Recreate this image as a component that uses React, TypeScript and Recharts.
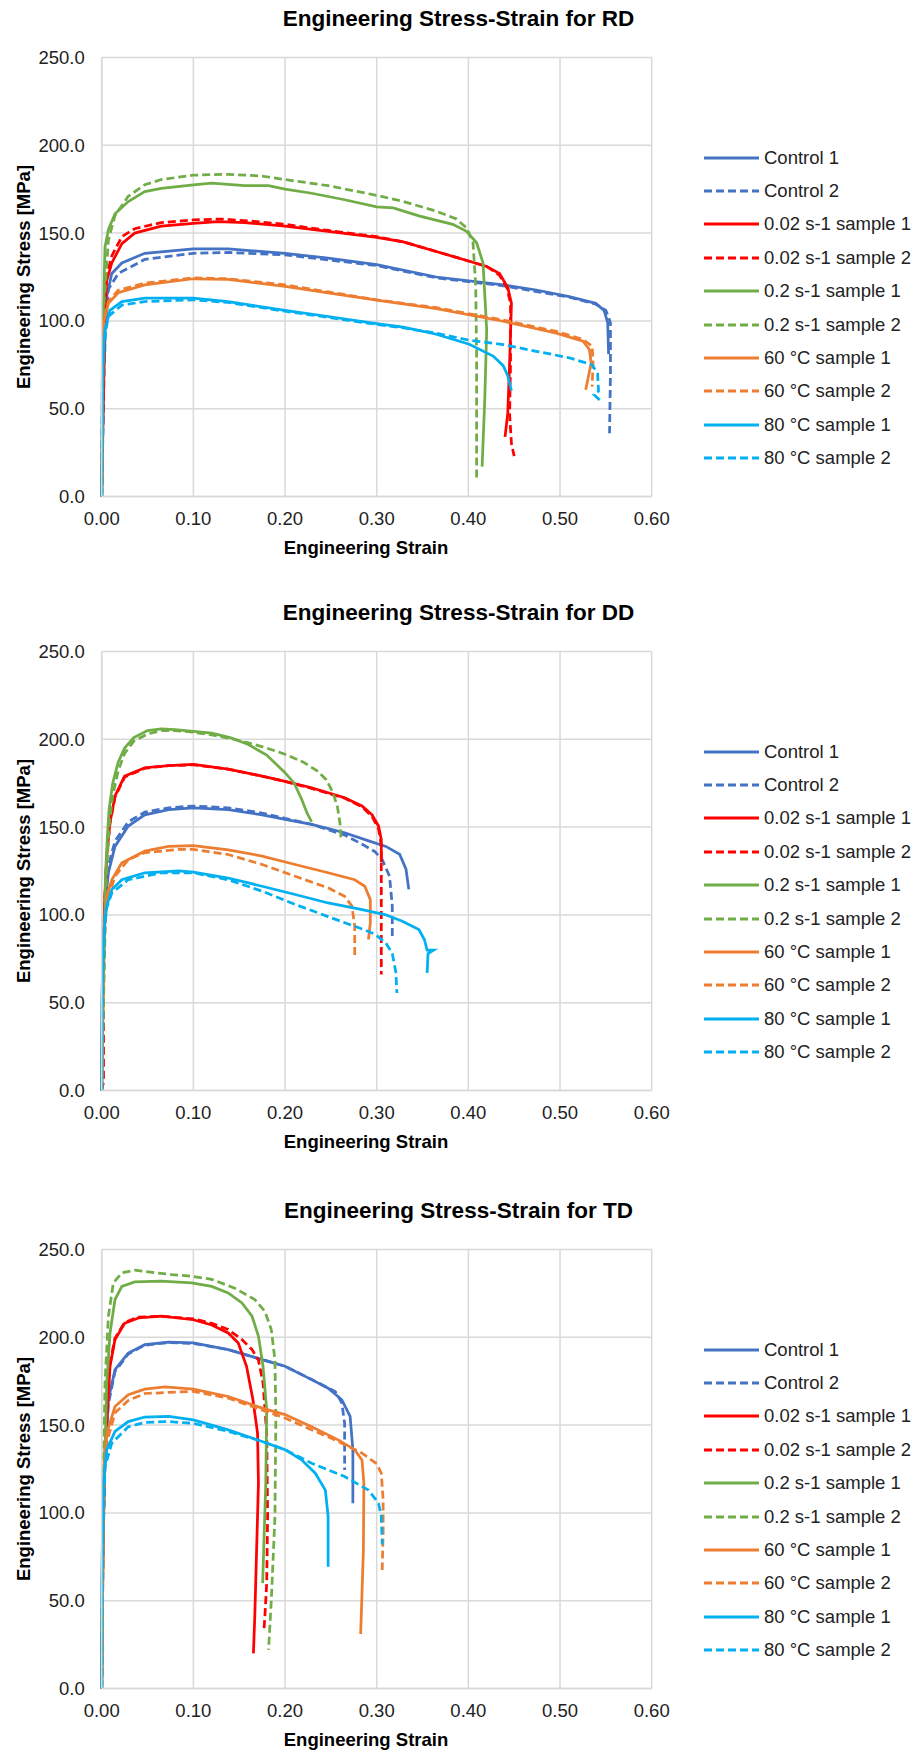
import { CartesianGrid, Line, LineChart, XAxis, YAxis } from "recharts";

type Pt = [number, number];

// strain [-], stress [MPa]
const rdControl1: Pt[] = [[0, 0], [0.002, 60], [0.004, 100], [0.0055, 114], [0.011, 127], [0.022, 133], [0.047, 138.5], [0.1, 141], [0.138, 141], [0.2, 138.5], [0.247, 135.7], [0.3, 132], [0.365, 125], [0.438, 120.5], [0.474, 117.6], [0.51, 113.8], [0.539, 110], [0.548, 106], [0.552, 99], [0.553, 81]];
const rdControl2: Pt[] = [[0, 0], [0.002, 55], [0.004, 95], [0.0073, 118], [0.018, 127], [0.047, 135], [0.1, 138.5], [0.138, 139], [0.2, 137.6], [0.3, 131.5], [0.365, 124.5], [0.438, 120], [0.51, 113.5], [0.539, 109.5], [0.55, 106], [0.555, 99], [0.555, 70], [0.554, 36]];
const rdRate1: Pt[] = [[0, 0], [0.002, 70], [0.004, 110], [0.0055, 123], [0.011, 133], [0.022, 144], [0.036, 150], [0.065, 154], [0.1, 155.6], [0.127, 156.5], [0.156, 156], [0.2, 154], [0.247, 151], [0.3, 147.6], [0.329, 145], [0.365, 139.5], [0.401, 134], [0.42, 131], [0.434, 127], [0.443, 119], [0.447, 110], [0.445, 76], [0.443, 47.5], [0.44, 34]];
const rdRate2: Pt[] = [[0, 0], [0.002, 70], [0.004, 112], [0.0055, 126], [0.011, 137], [0.022, 148], [0.036, 152.5], [0.065, 156], [0.1, 157.5], [0.13, 158], [0.16, 157], [0.2, 155], [0.247, 151.5], [0.3, 148], [0.329, 145], [0.365, 139.5], [0.401, 134], [0.42, 131], [0.434, 126], [0.442, 119], [0.446, 110], [0.446, 76], [0.445, 47], [0.447, 30], [0.45, 23]];
const rdFast1: Pt[] = [[0, 0], [0.001, 60], [0.002, 110], [0.0036, 142], [0.0073, 152], [0.0145, 161], [0.029, 168], [0.047, 173.6], [0.065, 175.5], [0.1, 177.5], [0.12, 178.4], [0.156, 177], [0.182, 177], [0.2, 175], [0.229, 172.7], [0.265, 169], [0.3, 165], [0.318, 164.4], [0.347, 159.7], [0.383, 155], [0.398, 151], [0.409, 144.5], [0.416, 133], [0.42, 95], [0.418, 57], [0.415, 17]];
const rdFast2: Pt[] = [[0, 0], [0.001, 60], [0.002, 105], [0.0073, 146], [0.0145, 160], [0.029, 171], [0.047, 177.5], [0.065, 180.5], [0.1, 183], [0.138, 183.5], [0.175, 182.5], [0.2, 180.5], [0.247, 177], [0.3, 171.5], [0.329, 168], [0.365, 162.5], [0.387, 158], [0.398, 153], [0.405, 145], [0.408, 120], [0.409, 80], [0.409, 40], [0.409, 10.5]];
const rd60C1: Pt[] = [[0, 0], [0.0012, 70], [0.0018, 98.7], [0.0073, 110], [0.018, 116], [0.047, 120.5], [0.1, 124], [0.138, 123.6], [0.2, 119.7], [0.247, 116], [0.3, 111.8], [0.365, 107], [0.438, 99.8], [0.496, 93], [0.525, 88.4], [0.532, 83.7], [0.534, 76], [0.528, 60.8]];
const rd60C2: Pt[] = [[0, 0], [0.0012, 70], [0.002, 100], [0.0073, 111], [0.018, 117.5], [0.047, 121.5], [0.1, 124.5], [0.138, 124], [0.2, 120.5], [0.247, 116.5], [0.3, 112], [0.365, 107.5], [0.438, 100.5], [0.496, 94], [0.525, 89.5], [0.535, 85.6], [0.536, 76], [0.535, 62.6]];
const rd80C1: Pt[] = [[0, 0], [0.0007, 76], [0.0036, 95], [0.009, 106], [0.022, 111], [0.047, 113], [0.1, 113], [0.138, 111], [0.2, 106], [0.247, 102.5], [0.3, 98.5], [0.329, 96.5], [0.365, 92.4], [0.401, 86.7], [0.427, 80], [0.438, 74.5], [0.443, 68.8], [0.447, 60.3]];
const rd80C2: Pt[] = [[0, 0], [0.0007, 70], [0.0036, 92], [0.0073, 102.6], [0.022, 109], [0.047, 111], [0.1, 112], [0.138, 110.5], [0.2, 105.5], [0.247, 102], [0.3, 98], [0.329, 96], [0.365, 93], [0.401, 89], [0.438, 86.5], [0.474, 82.7], [0.51, 79], [0.535, 75], [0.541, 70], [0.542, 60], [0.537, 58], [0.545, 54]];

const ddControl1: Pt[] = [[0, 0], [0.001, 50], [0.0036, 105], [0.0073, 124], [0.0145, 139], [0.029, 150.6], [0.047, 157], [0.073, 160], [0.1, 161], [0.138, 160], [0.175, 157], [0.2, 154.4], [0.229, 151.5], [0.265, 146.8], [0.292, 142], [0.31, 139], [0.325, 134.5], [0.332, 126], [0.335, 114.5]];
const ddControl2: Pt[] = [[0, 0], [0.001, 50], [0.0036, 108], [0.0073, 128], [0.0145, 142], [0.029, 153], [0.047, 158.5], [0.073, 161], [0.1, 162], [0.138, 161], [0.175, 158], [0.2, 155], [0.229, 151.5], [0.265, 145.5], [0.285, 140], [0.298, 136], [0.306, 131.5], [0.314, 122], [0.317, 105], [0.317, 86]];
const ddRate1: Pt[] = [[0, 0], [0.001, 60], [0.003, 105], [0.0055, 133.5], [0.009, 152.5], [0.0145, 167.7], [0.025, 179], [0.047, 183.8], [0.073, 185], [0.1, 185.7], [0.138, 183], [0.175, 179], [0.2, 176], [0.229, 172.4], [0.265, 166.7], [0.284, 162], [0.295, 157], [0.302, 150.6], [0.305, 143], [0.305, 130]];
const ddRate2: Pt[] = [[0, 0], [0.002, 5], [0.002, 70], [0.003, 105], [0.0055, 133], [0.009, 152], [0.0145, 167], [0.025, 178.5], [0.047, 183.5], [0.073, 185], [0.1, 185.5], [0.138, 183], [0.175, 179], [0.2, 176], [0.229, 172], [0.265, 166.5], [0.284, 161.5], [0.295, 156], [0.302, 149], [0.305, 140], [0.305, 110], [0.305, 66]];
const ddFast1: Pt[] = [[0, 0], [0.002, 60], [0.004, 120], [0.006, 143], [0.008, 160], [0.012, 175], [0.018, 187], [0.025, 195], [0.035, 201], [0.05, 205], [0.065, 206], [0.08, 205.5], [0.1, 204.5], [0.12, 203.5], [0.14, 201], [0.16, 197], [0.18, 191], [0.2, 181], [0.21, 175], [0.218, 166], [0.224, 158], [0.229, 153]];
const ddFast2: Pt[] = [[0, 0], [0.002, 50], [0.005, 120], [0.008, 150], [0.012, 168], [0.018, 182], [0.025, 192], [0.035, 199], [0.05, 203], [0.065, 205], [0.08, 205], [0.1, 204], [0.12, 202.5], [0.14, 200.5], [0.16, 198], [0.18, 195], [0.2, 191.5], [0.22, 187], [0.235, 182], [0.245, 177], [0.252, 170], [0.257, 162], [0.26, 152], [0.261, 144]];
const dd60C1: Pt[] = [[0, 0], [0.0018, 86], [0.0055, 110.6], [0.011, 120], [0.022, 129.7], [0.047, 136.3], [0.073, 139], [0.1, 139.5], [0.138, 137], [0.175, 133.5], [0.211, 128.7], [0.247, 124], [0.276, 120], [0.287, 116.3], [0.293, 108.7], [0.293, 95.4], [0.291, 86]];
const dd60C2: Pt[] = [[0, 0], [0.002, 80], [0.0055, 107], [0.0145, 122], [0.029, 131.5], [0.047, 135.4], [0.084, 137.3], [0.1, 137.3], [0.138, 134.4], [0.175, 128.7], [0.211, 122], [0.247, 115.4], [0.265, 110.6], [0.273, 105], [0.276, 93.5], [0.276, 76.4]];
const dd80C1: Pt[] = [[0, 0], [0, 48], [0.0018, 86], [0.0055, 105], [0.011, 114.4], [0.022, 120], [0.047, 124], [0.084, 125], [0.1, 124.3], [0.138, 121], [0.175, 116.3], [0.211, 111.6], [0.247, 106.8], [0.284, 103], [0.309, 100.2], [0.328, 96.4], [0.346, 91.6], [0.352, 86], [0.355, 80], [0.362, 80], [0.356, 78], [0.355, 67]];
const dd80C2: Pt[] = [[0, 0], [0.001, 60], [0.0036, 101], [0.011, 112.5], [0.029, 120], [0.065, 124], [0.1, 124], [0.138, 120], [0.175, 113.5], [0.211, 106], [0.247, 99], [0.284, 92], [0.298, 89], [0.31, 84], [0.317, 78], [0.321, 67], [0.322, 55.5]];

const tdControl1: Pt[] = [[0, 0], [0.001, 70], [0.0029, 126], [0.0073, 164.4], [0.0145, 181.6], [0.029, 191], [0.047, 195.8], [0.073, 197.3], [0.1, 196.8], [0.138, 193], [0.175, 187.3], [0.2, 183.5], [0.229, 175.9], [0.247, 171], [0.262, 164.4], [0.271, 155], [0.274, 136], [0.274, 105.5]];
const tdControl2: Pt[] = [[0, 0], [0.001, 70], [0.0029, 124], [0.0073, 162], [0.0145, 180.5], [0.029, 190.5], [0.047, 195.5], [0.073, 197], [0.1, 196.5], [0.138, 193], [0.175, 187.3], [0.2, 183.5], [0.229, 176], [0.255, 169], [0.262, 162.5], [0.265, 151], [0.265, 124.5]];
const tdRate1: Pt[] = [[0, 0], [0.0015, 80], [0.0036, 136], [0.0091, 183.5], [0.0145, 198.7], [0.025, 208], [0.04, 211], [0.065, 212], [0.1, 210], [0.12, 207], [0.138, 202.5], [0.149, 196.8], [0.158, 183.5], [0.165, 164.4], [0.17, 145.4], [0.171, 117], [0.169, 79], [0.167, 41], [0.1655, 20]];
const tdRate2: Pt[] = [[0, 0], [0.0015, 80], [0.0036, 138], [0.0091, 185], [0.0145, 199.5], [0.025, 208.5], [0.04, 211.5], [0.065, 212], [0.1, 210.5], [0.12, 208], [0.138, 204.4], [0.153, 198.7], [0.164, 193], [0.171, 187], [0.176, 174], [0.18, 145.4], [0.181, 98], [0.18, 60], [0.178, 41], [0.177, 33]];
const tdFast1: Pt[] = [[0, 0], [0.0018, 98], [0.0055, 174], [0.0091, 202.5], [0.0145, 221.5], [0.022, 229], [0.036, 231.5], [0.065, 232], [0.098, 231], [0.12, 229], [0.138, 225.3], [0.153, 219.6], [0.164, 212], [0.171, 200.6], [0.176, 183.5], [0.18, 158.7], [0.179, 117], [0.1756, 60]];
const tdFast2: Pt[] = [[0, 0], [0.0018, 117], [0.0036, 174], [0.0073, 212], [0.0127, 231], [0.022, 236.7], [0.036, 238.2], [0.055, 237], [0.076, 235.7], [0.098, 234.8], [0.12, 233], [0.145, 228], [0.167, 221.5], [0.178, 214.8], [0.185, 204.4], [0.189, 187], [0.19, 155], [0.189, 98], [0.185, 50], [0.182, 22]];
const td60C1: Pt[] = [[0, 0], [0.0018, 117], [0.0055, 145.4], [0.0145, 160.6], [0.029, 167.3], [0.047, 170.5], [0.069, 171.7], [0.1, 170.5], [0.138, 166.3], [0.175, 159.7], [0.2, 156], [0.229, 149], [0.258, 141.6], [0.276, 136], [0.284, 130], [0.286, 117], [0.2855, 79], [0.2825, 31]];
const td60C2: Pt[] = [[0, 0], [0.0018, 110], [0.0055, 140], [0.0145, 157], [0.029, 164], [0.047, 168], [0.1, 169.2], [0.138, 165.4], [0.2, 154], [0.258, 140.7], [0.284, 134], [0.3, 128], [0.305, 122.6], [0.307, 107.4], [0.307, 88.4], [0.306, 67.5]];
const td80C1: Pt[] = [[0, 0], [0, 60], [0.0018, 117], [0.0055, 136], [0.0145, 146.4], [0.029, 152], [0.047, 154.6], [0.073, 155], [0.1, 153], [0.138, 147.3], [0.175, 140.7], [0.2, 136], [0.218, 130.2], [0.233, 122.6], [0.244, 113], [0.247, 98], [0.247, 69.4]];
const td80C2: Pt[] = [[0, 0], [0.001, 80], [0.0036, 126.4], [0.011, 139.7], [0.029, 149], [0.047, 151.5], [0.073, 152], [0.1, 151], [0.138, 146.4], [0.175, 140.7], [0.2, 136], [0.229, 128.3], [0.265, 120.7], [0.291, 113], [0.302, 105.5], [0.305, 98], [0.306, 82]];

const seriesNames = [
	"Control 1",
	"Control 2",
	"0.02 s-1 sample 1",
	"0.02 s-1 sample 2",
	"0.2 s-1 sample 1",
	"0.2 s-1 sample 2",
	"60 °C sample 1",
	"60 °C sample 2",
	"80 °C sample 1",
	"80 °C sample 2",
];
const seriesColors = ["#4472C4", "#4472C4", "#FF0000", "#FF0000", "#70AD47", "#70AD47", "#ED7D31", "#ED7D31", "#00B0F0", "#00B0F0"];
const seriesDashed = [false, true, false, true, false, true, false, true, false, true];

const strainTicks = [0, 0.1, 0.2, 0.3, 0.4, 0.5, 0.6];
const stressTicks = [0, 50, 100, 150, 200, 250];

const panels = [
	{ title: "Engineering Stress-Strain for RD", top: 0, curves: [rdControl1, rdControl2, rdRate1, rdRate2, rdFast1, rdFast2, rd60C1, rd60C2, rd80C1, rd80C2] },
	{ title: "Engineering Stress-Strain for DD", top: 594, curves: [ddControl1, ddControl2, ddRate1, ddRate2, ddFast1, ddFast2, dd60C1, dd60C2, dd80C1, dd80C2] },
	{ title: "Engineering Stress-Strain for TD", top: 1192, curves: [tdControl1, tdControl2, tdRate1, tdRate2, tdFast1, tdFast2, td60C1, td60C2, td80C1, td80C2] },
];

const FONT = "'Liberation Sans', Arial, sans-serif";
const GRID = "#D9D9D9";
const DASH = "8 4";

const yTitle = () => (
	<text
		x={23}
		y={277}
		transform="rotate(-90 23 277)"
		textAnchor="middle"
		dominantBaseline="central"
		fontFamily={FONT}
		fontSize={18.5}
		fontWeight="bold"
		fill="#000"
	>
		Engineering Stress [MPa]
	</text>
);

const xTitle = () => (
	<text x={366} y={547} textAnchor="middle" dominantBaseline="central" fontFamily={FONT} fontSize={18.5} fontWeight="bold" fill="#000">
		Engineering Strain
	</text>
);

// series key, drawn beside the plot (kept out of the chart so it takes no plot space)
function SeriesKey() {
	return (
		<div style={{ position: "absolute", top: 141, left: 704, fontFamily: FONT, fontSize: 18.5, color: "#222" }}>
			{seriesNames.map((name, i) => (
				<div key={name} style={{ display: "flex", alignItems: "center", height: 33.4, whiteSpace: "nowrap" }}>
					<svg width={55} height={6} style={{ marginRight: 5 }}>
						<line x1={0} y1={3} x2={55} y2={3} stroke={seriesColors[i]} strokeWidth={3} strokeDasharray={seriesDashed[i] ? DASH : undefined} />
					</svg>
					<span>{name}</span>
				</div>
			))}
		</div>
	);
}

function StressStrainChart({ title, curves }: { title: string; curves: Pt[][] }) {
	return (
		<div style={{ position: "relative", width: 917, height: 594 }}>
			<div
				style={{
					position: "absolute",
					top: 0,
					left: 0,
					width: 917,
					height: 37,
					lineHeight: "37px",
					textAlign: "center",
					fontFamily: FONT,
					fontSize: 22.5,
					fontWeight: "bold",
					color: "#000",
				}}
			>
				{title}
			</div>
			<LineChart width={917} height={594} margin={{ top: 57.5, right: 265.3, left: 0, bottom: 37.5 }}>
				<CartesianGrid stroke={GRID} strokeWidth={1.5} />
				<XAxis
					type="number"
					dataKey="x"
					domain={[0, 0.6]}
					ticks={strainTicks}
					tickFormatter={(v: number) => v.toFixed(2)}
					height={60}
					tickSize={0}
					tickMargin={15}
					axisLine={{ stroke: GRID, strokeWidth: 1.5 }}
					tick={{ fill: "#222", fontSize: 18.5, fontFamily: FONT }}
					interval={0}
					label={xTitle}
				/>
				<YAxis
					type="number"
					dataKey="y"
					domain={[0, 250]}
					ticks={stressTicks}
					tickFormatter={(v: number) => v.toFixed(1)}
					width={101.7}
					tickSize={0}
					tickMargin={17}
					axisLine={{ stroke: GRID, strokeWidth: 1.5 }}
					tick={{ fill: "#222", fontSize: 18.5, fontFamily: FONT }}
					interval={0}
					label={yTitle}
				/>
				{curves.map((pts, i) => (
					<Line
						key={seriesNames[i]}
						name={seriesNames[i]}
						data={pts.map(([x, y]) => ({ x, y }))}
						dataKey="y"
						type="linear"
						stroke={seriesColors[i]}
						strokeWidth={2.75}
						strokeDasharray={seriesDashed[i] ? DASH : undefined}
						dot={false}
						activeDot={false}
						isAnimationActive={false}
					/>
				))}
			</LineChart>
			<SeriesKey />
		</div>
	);
}

export default function App() {
	return (
		<div style={{ position: "absolute", top: 0, left: 0, width: 917, height: 1750, background: "#fff" }}>
			{panels.map((p) => (
				<div key={p.title} style={{ position: "absolute", top: p.top, left: 0 }}>
					<StressStrainChart title={p.title} curves={p.curves} />
				</div>
			))}
		</div>
	);
}
